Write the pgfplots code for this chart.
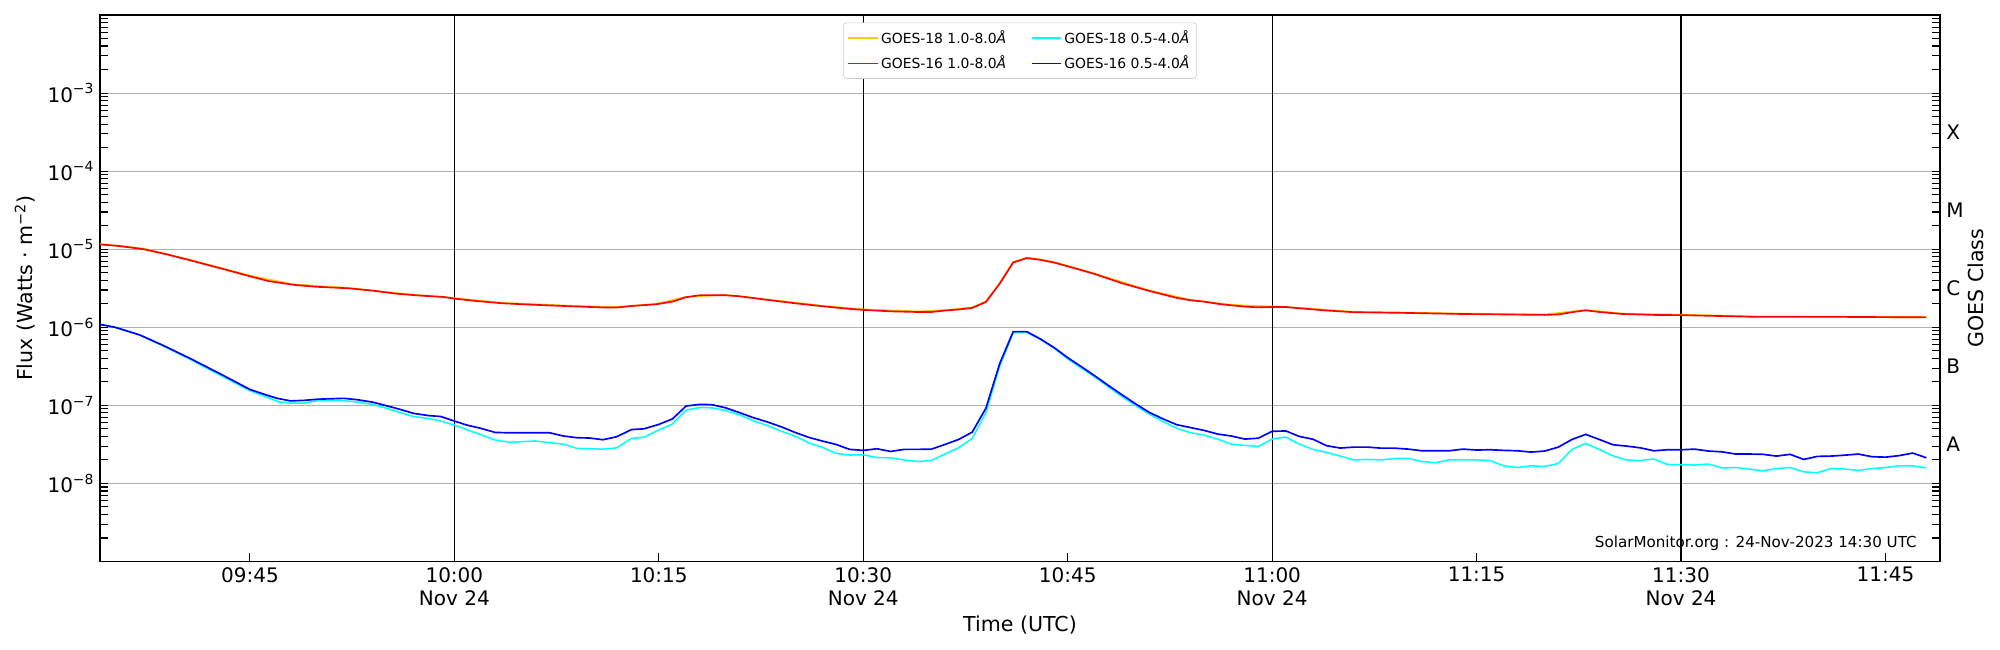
\documentclass[border=0pt]{standalone}
\usepackage{fontspec}
\setmainfont{DejaVu Sans}
\usepackage{pgfplots}
\pgfplotsset{compat=1.18}
\usepackage{pgfplotstable}
\definecolor{gold18}{RGB}{255,200,0}
\definecolor{aqua}{RGB}{0,255,255}
\definecolor{pureblue}{RGB}{0,0,255}
\definecolor{purered}{RGB}{255,0,0}
\definecolor{gridgray}{HTML}{B0B0B0}
\newcommand{\E}[1]{10\raisebox{0.42em}{\fontsize{10bp}{10bp}\selectfont −#1}}
\newcommand{\tickfont}{\fontsize{14.4bp}{16.6bp}\selectfont}
\newcommand{\labfont}{\fontsize{14.8bp}{17bp}\selectfont}

% GOES-16 1.0-8.0 A (minutes after 10:00 UTC, flux)
\pgfplotstableread{
t f
-26 1.15e-5
-24.6 1.1e-5
-22.8 1.0e-5
-21.1 8.6e-6
-19.1 7.0e-6
-17.0 5.6e-6
-15.0 4.5e-6
-13.6 3.9e-6
-11.8 3.5e-6
-10.1 3.3e-6
-7.8 3.16e-6
-6.0 2.95e-6
-4.3 2.7e-6
-2.6 2.55e-6
-0.8 2.45e-6
0 2.33e-6
1.5 2.18e-6
3.5 2.03e-6
5.6 1.95e-6
8.5 1.86e-6
11.1 1.79e-6
11.9 1.79e-6
13.1 1.88e-6
14.8 1.97e-6
16.0 2.13e-6
17.0 2.43e-6
18.0 2.57e-6
19.9 2.57e-6
20.9 2.5e-6
23.0 2.24e-6
25.0 2.03e-6
27.0 1.86e-6
29.0 1.72e-6
30 1.67e-6
32 1.6e-6
34 1.57e-6
35 1.57e-6
36 1.64e-6
37 1.69e-6
38 1.77e-6
39 2.11e-6
40 3.6e-6
41 6.75e-6
42 7.7e-6
43 7.3e-6
44 6.75e-6
46 5.4e-6
47 4.8e-6
49 3.66e-6
51 2.92e-6
53 2.38e-6
54 2.22e-6
55 2.13e-6
56 2.0e-6
57 1.91e-6
58 1.84e-6
59 1.8e-6
60 1.82e-6
61 1.82e-6
62 1.75e-6
64 1.64e-6
66 1.56e-6
69.6 1.53e-6
74 1.48e-6
80 1.44e-6
81 1.46e-6
82 1.56e-6
83 1.65e-6
84 1.57e-6
85.7 1.48e-6
88 1.44e-6
90 1.43e-6
92.4 1.4e-6
95.5 1.36e-6
101.5 1.36e-6
104.6 1.35e-6
108 1.34e-6
}\goesXVIlong

% GOES-18 1.0-8.0 A
\pgfplotstableread{
t f
-26 1.17e-5
-22.8 1.02e-5
-19.1 7.1e-6
-15.0 4.6e-6
-11.8 3.55e-6
-7.8 3.2e-6
-4.3 2.75e-6
0 2.36e-6
3.5 2.06e-6
8.5 1.89e-6
11.9 1.82e-6
14.8 2.0e-6
17.0 2.46e-6
19.9 2.6e-6
23.0 2.27e-6
27.0 1.89e-6
30 1.7e-6
34 1.6e-6
36 1.66e-6
38 1.8e-6
39 2.14e-6
40 3.65e-6
41 6.85e-6
42 7.8e-6
43 7.4e-6
44 6.85e-6
47 4.87e-6
51 2.96e-6
54 2.25e-6
57 1.94e-6
60 1.85e-6
62 1.78e-6
66 1.58e-6
74 1.5e-6
80 1.46e-6
83 1.67e-6
85.7 1.5e-6
90 1.45e-6
95.5 1.38e-6
108 1.36e-6
}\goesXVIIIlong

% GOES-16 0.5-4.0 A
\pgfplotstableread{
t f
-26 1.09e-6
-24.9 1.0e-6
-23.1 8.0e-7
-21.4 5.9e-7
-19.4 4.0e-7
-17.3 2.6e-7
-15.0 1.6e-7
-13.8 1.36e-7
-13.0 1.23e-7
-12.0 1.14e-7
-11.0 1.16e-7
-10.0 1.2e-7
-8.1 1.23e-7
-7.1 1.18e-7
-6.0 1.1e-7
-4.9 9.8e-8
-4.0 8.9e-8
-3.0 7.9e-8
-1.9 7.4e-8
-1.0 7.2e-8
0 6.3e-8
0.9 5.6e-8
1.9 5.1e-8
3.0 4.5e-8
4.1 4.45e-8
5.6 4.45e-8
7.0 4.45e-8
8.0 4.05e-8
9.0 3.85e-8
9.9 3.82e-8
10.9 3.63e-8
11.9 3.96e-8
13.0 4.9e-8
13.9 5.0e-8
15.0 5.7e-8
16.0 6.7e-8
17.0 9.8e-8
18.0 1.03e-7
18.9 1.02e-7
19.9 9.3e-8
20.9 8.1e-8
21.9 7.0e-8
23 6.1e-8
24 5.3e-8
25 4.5e-8
26 3.89e-8
27 3.49e-8
28 3.16e-8
29 2.73e-8
30 2.65e-8
31 2.78e-8
32 2.57e-8
33 2.73e-8
34 2.73e-8
35 2.75e-8
36 3.16e-8
37 3.66e-8
38 4.55e-8
39 9.2e-8
40 3.39e-7
41 8.8e-7
42 8.8e-7
43 7.08e-7
44 5.5e-7
45 4.08e-7
46 3.13e-7
47 2.38e-7
48 1.79e-7
49 1.36e-7
50 1.04e-7
51 8.1e-8
52 6.7e-8
53 5.65e-8
54 5.2e-8
55 4.78e-8
56 4.29e-8
57 4.05e-8
58 3.7e-8
59 3.8e-8
60 4.65e-8
61 4.7e-8
62 4.0e-8
63 3.68e-8
64 3.04e-8
65 2.84e-8
66 2.92e-8
67 2.92e-8
68 2.83e-8
69 2.83e-8
70 2.75e-8
71 2.62e-8
72 2.62e-8
73 2.62e-8
74 2.75e-8
75 2.68e-8
76 2.7e-8
77 2.65e-8
78 2.62e-8
79 2.52e-8
80 2.6e-8
81 2.92e-8
82 3.66e-8
83 4.25e-8
84 3.66e-8
85 3.13e-8
86 3.01e-8
87 2.86e-8
88 2.62e-8
89 2.7e-8
90 2.7e-8
91 2.75e-8
92 2.6e-8
93 2.54e-8
94 2.38e-8
95 2.38e-8
96 2.36e-8
97 2.24e-8
98 2.36e-8
99 2.03e-8
100 2.22e-8
101 2.24e-8
102 2.3e-8
103 2.38e-8
104 2.2e-8
105 2.17e-8
106 2.27e-8
107 2.45e-8
108 2.13e-8
}\goesXVIshort

% GOES-18 0.5-4.0 A
\pgfplotstableread{
t f
-26 1.09e-6
-24.9 1.0e-6
-23.1 8.0e-7
-21.4 5.8e-7
-19.4 3.9e-7
-17.3 2.5e-7
-15.0 1.54e-7
-13.8 1.29e-7
-12.9 1.11e-7
-12.0 1.07e-7
-11.0 1.07e-7
-10.0 1.15e-7
-8.1 1.15e-7
-7.1 1.1e-7
-6.0 1.03e-7
-4.9 9.1e-8
-4.0 8.1e-8
-3.0 7.2e-8
-1.9 6.8e-8
-1.0 6.3e-8
0 5.6e-8
0.9 4.9e-8
1.9 4.25e-8
3.0 3.6e-8
4.1 3.36e-8
5.9 3.5e-8
7.0 3.33e-8
8.0 3.19e-8
9.0 2.81e-8
10.9 2.75e-8
11.9 2.85e-8
13.0 3.77e-8
13.9 3.9e-8
15.0 4.83e-8
16.0 5.75e-8
17.0 8.7e-8
18.0 9.4e-8
18.9 9.3e-8
19.9 8.6e-8
21 7.5e-8
22 6.3e-8
23 5.5e-8
24 4.65e-8
25 4.05e-8
26 3.32e-8
27 2.9e-8
28 2.43e-8
29 2.31e-8
30 2.33e-8
31 2.15e-8
32 2.13e-8
33 2.0e-8
34 1.91e-8
35 1.97e-8
36 2.38e-8
37 2.86e-8
38 3.77e-8
39 8.05e-8
40 3.13e-7
41 8.5e-7
42 8.6e-7
43 7.0e-7
44 5.4e-7
45 3.95e-7
46 3.0e-7
47 2.3e-7
48 1.72e-7
49 1.29e-7
50 9.9e-8
51 7.7e-8
52 6.2e-8
53 5.1e-8
54 4.47e-8
55 4.17e-8
56 3.7e-8
57 3.19e-8
58 3.07e-8
59 2.98e-8
60 3.7e-8
61 3.93e-8
62 3.19e-8
63 2.73e-8
64 2.5e-8
65 2.24e-8
66 2.0e-8
67 2.03e-8
68 2.0e-8
69 2.09e-8
70 2.09e-8
71 1.91e-8
72 1.84e-8
73 2.01e-8
74 2.0e-8
75 2.0e-8
76 1.96e-8
77 1.68e-8
78 1.6e-8
79 1.68e-8
80 1.65e-8
81 1.8e-8
82 2.73e-8
83 3.26e-8
84 2.73e-8
85 2.26e-8
86 2.0e-8
87 1.96e-8
88 2.06e-8
89 1.75e-8
90 1.74e-8
91 1.72e-8
92 1.77e-8
93 1.58e-8
94 1.6e-8
95 1.53e-8
96 1.45e-8
97 1.55e-8
98 1.6e-8
99 1.41e-8
100 1.37e-8
101 1.55e-8
102 1.53e-8
103 1.47e-8
104 1.55e-8
105 1.6e-8
106 1.68e-8
107 1.68e-8
108 1.58e-8
}\goesXVIIIshort

\begin{document}
\begin{tikzpicture}
\path[use as bounding box] (-72bp,-63.72bp) rectangle (1368bp,404.28bp);
\begin{axis}[
  at={(0,0)}, anchor=south west,
  scale only axis, width=1324.8bp, height=393.5bp,
  clip=false,
  xmin=-26, xmax=109,
  ymode=log, log basis y=10, ymin=1e-9, ymax=1e-2,
  xtick={-15,0,15,30,45,60,75,90,105},
  xticklabels={09:45,{10:00\\Nov 24},10:15,{10:30\\Nov 24},10:45,{11:00\\Nov 24},11:15,{11:30\\Nov 24},11:45},
  xtick pos=left,
  ytick pos=both,
  ytick={1e-8,1e-7,1e-6,1e-5,1e-4,1e-3},
  yticklabels={\E{8},\E{7},\E{6},\E{5},\E{4},\E{3}},
  minor ytick={2e-9,3e-9,4e-9,5e-9,6e-9,7e-9,8e-9,9e-9,
               2e-8,3e-8,4e-8,5e-8,6e-8,7e-8,8e-8,9e-8,
               2e-7,3e-7,4e-7,5e-7,6e-7,7e-7,8e-7,9e-7,
               2e-6,3e-6,4e-6,5e-6,6e-6,7e-6,8e-6,9e-6,
               2e-5,3e-5,4e-5,5e-5,6e-5,7e-5,8e-5,9e-5,
               2e-4,3e-4,4e-4,5e-4,6e-4,7e-4,8e-4,9e-4,
               2e-3,3e-3,4e-3,5e-3,6e-3,7e-3,8e-3,9e-3},
  tick align=inside,
  major tick length=5.8bp, minor tick length=5.8bp,
  tick style={black, line width=0.8bp},
  axis line style={black, line width=1bp},
  ymajorgrids,
  major grid style={gridgray, line width=0.8bp},
  ticklabel style={font=\tickfont},
  xticklabel style={align=center, inner sep=0pt, yshift=-4bp},
  yticklabel style={inner sep=0pt, xshift=-4.5bp},
  xlabel={Time (UTC)},
  xlabel style={at={(axis description cs:0.5,-0.1162)}, anchor=center, font=\labfont},
  ylabel={Flux (Watts · m\textsuperscript{−2})},
  ylabel style={at={(axis description cs:-0.0408,0.5)}, anchor=center, font=\labfont},
  legend columns=2,
  legend cell align=left,
  legend image code/.code={\draw[#1, line width=0.9bp] (0bp,0bp) -- (21bp,0bp);},
  legend style={at={(0.5,0.986)}, anchor=north,
    draw=black!20, rounded corners=2bp, fill=white,
    font=\fontsize{10bp}{11bp}\selectfont,
    inner xsep=3bp, inner ysep=3.5bp, row sep=3.5bp,
    /tikz/every even column/.append style={column sep=16bp}},
]
\draw[black, line width=0.9bp] (axis cs:0,1e-9) -- (axis cs:0,1e-2);
\draw[black, line width=0.9bp] (axis cs:30,1e-9) -- (axis cs:30,1e-2);
\draw[black, line width=0.9bp] (axis cs:60,1e-9) -- (axis cs:60,1e-2);
\draw[black, line width=0.9bp] (axis cs:90,1e-9) -- (axis cs:90,1e-2);

\addplot[gold18, line width=1.1bp] table[x=t,y=f] {\goesXVIIIlong};
\addlegendentry{GOES-18 1.0-8.0\textit{Å}}
\addplot[aqua, line width=1.1bp] table[x=t,y=f] {\goesXVIIIshort};
\addlegendentry{GOES-18 0.5-4.0\textit{Å}}
\addplot[purered, line width=1.2bp] table[x=t,y=f] {\goesXVIlong};
\addlegendentry{GOES-16 1.0-8.0\textit{Å}}
\addplot[pureblue, line width=1.2bp] table[x=t,y=f] {\goesXVIshort};
\addlegendentry{GOES-16 0.5-4.0\textit{Å}}

\node[anchor=west, inner sep=0pt, font=\tickfont, xshift=4.3bp] at (axis cs:109,3.162e-4) {X};
\node[anchor=west, inner sep=0pt, font=\tickfont, xshift=4.3bp] at (axis cs:109,3.162e-5) {M};
\node[anchor=west, inner sep=0pt, font=\tickfont, xshift=4.3bp] at (axis cs:109,3.162e-6) {C};
\node[anchor=west, inner sep=0pt, font=\tickfont, xshift=4.3bp] at (axis cs:109,3.162e-7) {B};
\node[anchor=west, inner sep=0pt, font=\tickfont, xshift=4.3bp] at (axis cs:109,3.162e-8) {A};
\node[rotate=90, font=\labfont] at (rel axis cs:1.0196,0.5) {GOES Class};
\node[anchor=east, inner sep=0pt, font=\fontsize{10.9bp}{12bp}\selectfont] at (rel axis cs:0.9875,0.0339) {SolarMonitor.org : 24-Nov-2023 14:30 UTC};
\end{axis}
\end{tikzpicture}
\end{document}
